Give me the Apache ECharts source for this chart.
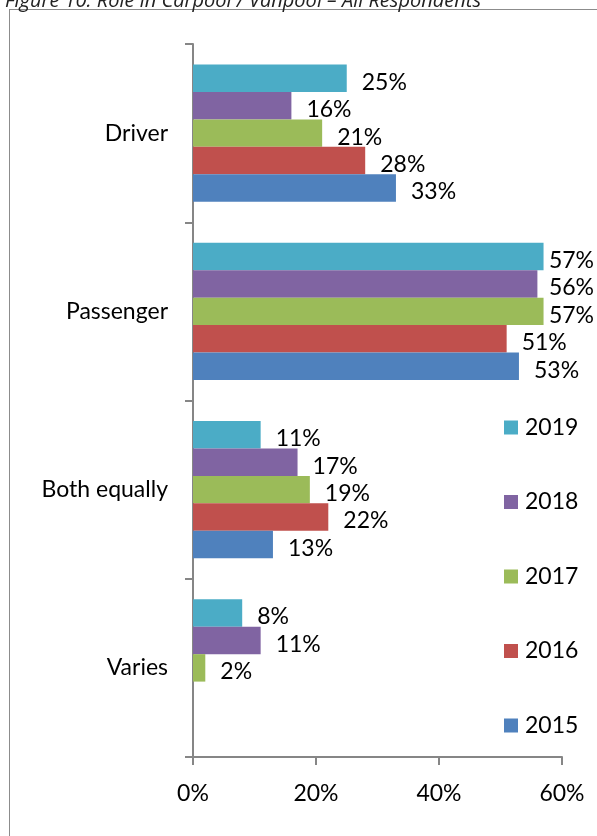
<!DOCTYPE html>
<html>
<head>
<meta charset="utf-8">
<script src="https://cdn.jsdelivr.net/npm/echarts@6/dist/echarts.min.js"></script>
<style>
html,body{margin:0;padding:0;background:#fff;overflow:hidden;}
#frame{position:absolute;left:9px;top:9px;width:700px;height:900px;border:1.5px solid #8c8c8c;box-sizing:border-box;}
#chart{position:absolute;left:0;top:0;width:597px;height:836px;}
</style>
</head>
<body>
<div id="frame"></div>
<div id="chart"></div>
<script>
// categories bottom-to-top (ECharts draws the first category at the bottom)
const categories = ['Varies', 'Both equally', 'Passenger', 'Driver'];
const years = ['2019', '2018', '2017', '2016', '2015'];
const v2019 = [8, 11, 57, 25];
const v2018 = [11, 17, 56, 16];
const v2017 = [2, 19, 57, 21];
const v2016 = [null, 22, 51, 28];
const v2015 = [null, 13, 53, 33];
const xTicks = [0, 20, 40, 60];
const colors = ['#4BACC6', '#8064A2', '#9BBB59', '#C0504D', '#4F81BD'];
const seriesValues = [v2019, v2018, v2017, v2016, v2015];

const font = 'Lato, "Open Sans", sans-serif';
const fs = 23;
const labelRightLimit = 594;
const chart = echarts.init(document.getElementById('chart'), null, {renderer: 'canvas'});
chart.setOption({
  animation: false,
  title: {
    text: 'Figure 10: Role in Carpool / Vanpool \u2013 All Respondents',
    left: 0, top: -14,
    textStyle: {fontFamily: '"Open Sans", sans-serif', fontStyle: 'italic', fontWeight: 'normal', fontSize: 20, color: '#222'}
  },
  grid: {left: 193, right: 35, top: 44, bottom: 79, containLabel: false},
  legend: {
    data: years,
    orient: 'vertical',
    left: 499, top: 411,
    itemWidth: 14, itemHeight: 14, itemGap: 51.5,
    icon: 'rect',
    textStyle: {fontFamily: font, fontSize: fs, color: '#000', padding: [0, 0, 0, 2]}
  },
  xAxis: {
    type: 'value', min: 0, max: 60, interval: 20,
    axisLine: {show: true, lineStyle: {color: '#868686', width: 2}},
    axisTick: {show: true, length: 8, lineStyle: {color: '#868686', width: 2}},
    splitLine: {show: false},
    axisLabel: {formatter: v => xTicks.includes(v) ? v + '%' : '', fontFamily: font, fontSize: fs, color: '#000', margin: 25}
  },
  yAxis: {
    type: 'category', data: categories,
    axisLine: {show: true, lineStyle: {color: '#868686', width: 2}},
    axisTick: {show: true, length: 8, lineStyle: {color: '#868686', width: 2}},
    axisLabel: {fontFamily: font, fontSize: fs, color: '#000', margin: 25}
  },
  labelLayout: function (params) {
    const r = params.labelRect;
    let dx = 0;
    if (r && r.x + r.width > labelRightLimit) {
      dx = labelRightLimit - (r.x + r.width);
    }
    return {dx: dx, dy: 4};
  },
  series: years.map((y, i) => ({
    name: y, type: 'bar',
    data: seriesValues[i],
    itemStyle: {color: colors[i]},
    barGap: '0%', barCategoryGap: '23%',
    label: {
      show: true, position: 'right', distance: 15,
      formatter: p => p.value == null ? '' : p.value + '%',
      fontFamily: font, fontSize: fs, color: '#000'
    }
  }))
});
</script>
</body>
</html>
